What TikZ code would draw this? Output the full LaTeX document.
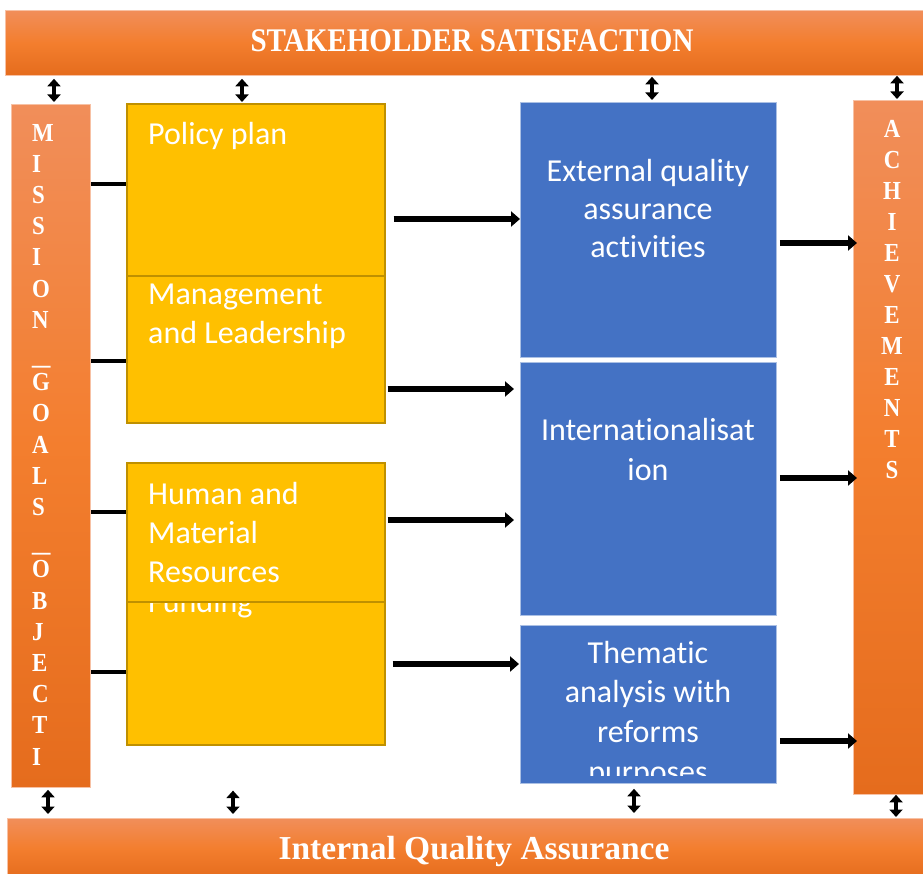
\documentclass[tikz,border=0pt]{standalone}
\usepackage{fontspec}
\setmainfont{Carlito}[Ligatures=NoCommon]
\newfontfamily\barfont{Liberation Serif}[FakeStretch=0.88]
\newfontfamily\barfontw{Liberation Serif}
\usetikzlibrary{arrows.meta}
\definecolor{orT}{HTML}{F18E5A}
\definecolor{orM}{HTML}{F37E2E}
\definecolor{orB}{HTML}{E56C1D}
\definecolor{yel}{HTML}{FFC000}
\definecolor{yelB}{HTML}{BF9000}
\definecolor{blu}{HTML}{4472C4}
\newcommand{\wideus}{\raisebox{-5pt}{\scalebox{1.6}[1]{\_}}}
\tikzset{
  bar/.style={rectangle, draw=orT!55!white, line width=0.8pt, top color=orT, bottom color=orB, middle color=orM, inner sep=0pt, anchor=north west},
  ybox/.style={rectangle, draw=yelB, line width=1.6pt, fill=yel, inner sep=0pt, anchor=north west, minimum width=258pt},
  bbox/.style={rectangle, draw=blu!45!white, line width=0.8pt, fill=blu, inner sep=0pt, anchor=north west, minimum width=256pt},
  boxtxt/.style={text=white, inner sep=0pt, font=\fontsize{32}{39}\selectfont},
  bartxt/.style={text=white, inner sep=0pt, font=\barfont\bfseries\fontsize{33}{40}\selectfont, anchor=base},
  vtxt/.style={text=white, inner sep=0pt, font=\barfont\bfseries\fontsize{26}{31.2}\selectfont, anchor=base},
  link/.style={line width=4pt, black},
  fat/.style={line width=6pt, black, -{Triangle[width=15pt,length=9pt]}},
  dbl/.style={line width=3.2pt, black, {Triangle[width=13pt,length=7.5pt]}-{Triangle[width=13pt,length=7.5pt]}}
}
\begin{document}
\begin{tikzpicture}[x=1pt,y=-1pt]
\useasboundingbox (0,0) rectangle (923,874);
% bars
\node[bar, minimum width=918pt, minimum height=65pt] (stake) at (5,10) {};
\node[bartxt] (staketxt) at (472,52) {STAKEHOLDER SATISFACTION};
\node[bar, minimum width=916pt, minimum height=60pt] (iqa) at (7,818) {};
\node[bartxt, font=\barfontw\bfseries\fontsize{33.5}{40}\selectfont] (iqatxt) at (474,859) {Internal Quality Assurance};
\node[bar, minimum width=79pt, minimum height=683pt] (mission) at (11,104) {};
% base anchor of a multi-line node = baseline of its last line
\node[vtxt, anchor=base west, align=left] (missiontxt) at (32,765) {M\\I\\S\\S\\I\\O\\N\\\wideus\\G\\O\\A\\L\\S\\\wideus\\O\\B\\J\\E\\C\\T\\I};
\node[bar, minimum width=75pt, minimum height=694pt] (achieve) at (853,100) {};
\node[vtxt, align=center, font=\barfont\bfseries\fontsize{26}{31}\selectfont] (achievetxt) at (892,478) {A\\C\\H\\I\\E\\V\\E\\M\\E\\N\\T\\S};
% yellow boxes
\node[ybox, minimum height=158pt] (mgmt) at (126,264) {};
\node[boxtxt, anchor=base west, align=left] (mgmttxt) at (148,343) {Management\\and Leadership};
\node[ybox, minimum height=172pt] (policy) at (126,103) {};
\node[boxtxt, anchor=base west, align=left] (policytxt) at (148,145) {Policy plan};
\node[ybox, minimum height=174pt] (funding) at (126,570) {};
\node[boxtxt, anchor=base west, align=left] (fundingtxt) at (148,612) {Funding};
\node[ybox, minimum height=139pt] (human) at (126,462) {};
\node[boxtxt, anchor=base west, align=left] (humantxt) at (148,582) {Human and\\Material\\Resources};
% blue boxes
\node[bbox, minimum height=255pt] (ext) at (520,102) {};
\node[boxtxt, anchor=base, align=center, font=\fontsize{32}{38.3}\selectfont] (exttxt) at (648,258) {External quality\\assurance\\activities};
\node[bbox, minimum height=253pt] (intl) at (520,362) {};
\node[boxtxt, anchor=base, align=center, font=\fontsize{32}{40}\selectfont] (intltxt) at (648,480) {Internationalisat\\ion};
\node[bbox, minimum height=158pt] (thema) at (520,625) {};
\begin{scope}
\clip (thema.north west) rectangle ([yshift=8pt]thema.south east);
\node[boxtxt, anchor=base, align=center, font=\fontsize{32}{39.6}\selectfont] (thematxt) at (648,782) {Thematic\\analysis with\\reforms\\purposes};
\end{scope}
% coordinates for connector rows/columns
\coordinate (l1) at (0,184);
\coordinate (l2) at (0,361);
\coordinate (l3) at (0,512);
\coordinate (l4) at (0,672);
\coordinate (m1) at (0,219);
\coordinate (m2) at (0,389);
\coordinate (m3) at (0,520);
\coordinate (m4) at (0,664);
\coordinate (r1) at (0,243);
\coordinate (r2) at (0,478);
\coordinate (r3) at (0,741);
\coordinate (t1) at (54,0);
\coordinate (t2) at (242,0);
\coordinate (t3) at (652,0);
\coordinate (t4) at (897,0);
\coordinate (b1) at (48,0);
\coordinate (b2) at (233,0);
\coordinate (b3) at (634,0);
\coordinate (b4) at (896,0);
% left links
\draw[link] (mission.east |- l1) -- (policy.west |- l1);
\draw[link] (mission.east |- l2) -- (mgmt.west |- l2);
\draw[link] (mission.east |- l3) -- (human.west |- l3);
\draw[link] (mission.east |- l4) -- (funding.west |- l4);
% middle arrows
\draw[fat, shorten <=8pt] (policy.east |- m1) -- (ext.west |- m1);
\draw[fat, shorten <=2pt, shorten >=6pt] (mgmt.east |- m2) -- (intl.west |- m2);
\draw[fat, shorten <=2pt, shorten >=6pt] (human.east |- m3) -- (intl.west |- m3);
\draw[fat, shorten <=7pt, shorten >=1pt] (funding.east |- m4) -- (thema.west |- m4);
% right arrows
\draw[fat, shorten <=3pt, shorten >=-4pt] (ext.east |- r1) -- (achieve.west |- r1);
\draw[fat, shorten <=3pt, shorten >=-4pt] (intl.east |- r2) -- (achieve.west |- r2);
\draw[fat, shorten <=3pt, shorten >=-4pt] (thema.east |- r3) -- (achieve.west |- r3);
% top double arrows
\draw[dbl, shorten <=3pt, shorten >=2pt] (stake.south -| t1) -- (mission.north -| t1);
\draw[dbl, shorten <=3pt, shorten >=1pt] (stake.south -| t2) -- (policy.north -| t2);
\draw[dbl, shorten <=1pt, shorten >=2pt] (stake.south -| t3) -- (ext.north -| t3);
\draw[dbl, shorten <=0pt, shorten >=1pt] (stake.south -| t4) -- (achieve.north -| t4);
% bottom double arrows
\draw[dbl, shorten <=2pt, shorten >=4pt] (mission.south -| b1) -- (iqa.north -| b1);
\draw[dbl, shorten <=45pt, shorten >=4pt] (funding.south -| b2) -- (iqa.north -| b2);
\draw[dbl, shorten <=5pt, shorten >=5pt] (thema.south -| b3) -- (iqa.north -| b3);
\draw[dbl, shorten <=0pt, shorten >=1pt] (achieve.south -| b4) -- (iqa.north -| b4);
\end{tikzpicture}
\end{document}
